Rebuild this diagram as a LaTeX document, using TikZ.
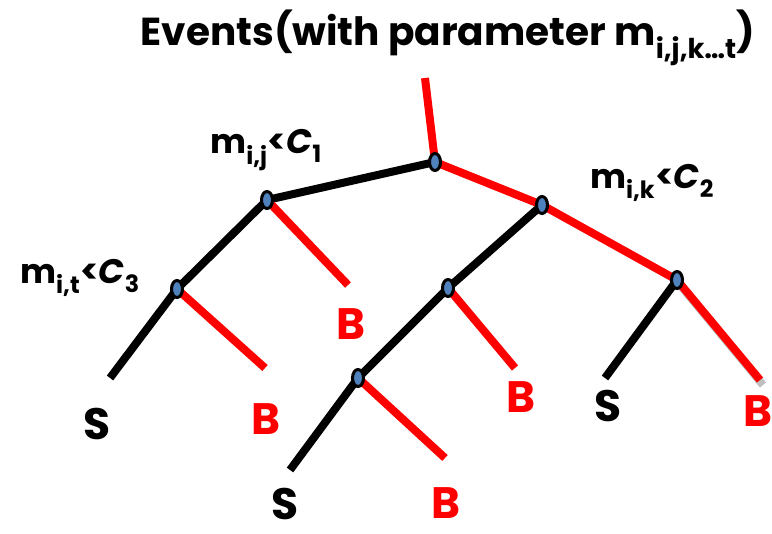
\documentclass[tikz,border=0pt]{standalone}
\usepackage{fontspec}
\setmainfont{Poppins}
\usetikzlibrary{shapes.geometric}
\definecolor{nodeblue}{RGB}{79,129,189}
\definecolor{bred}{RGB}{255,0,0}
\tikzset{
  dnode/.style={ellipse, draw=black, line width=3pt, fill=nodeblue, minimum width=11pt, minimum height=17pt, inner sep=0pt},
  redge/.style={draw=bred, line width=8pt},
  bedge/.style={draw=black, line width=8pt},
  leafS/.style={font=\fontsize{44}{44}\selectfont\bfseries, text=black},
  leafB/.style={font=\fontsize{44}{44}\selectfont\bfseries, text=bred},
  cond/.style={font=\fontsize{34}{34}\selectfont\bfseries, text=black, inner sep=0pt},
  every node/.append style={inner sep=0pt}
}
\newcommand{\sbs}[1]{\textsubscript{#1}}
\begin{document}
\begin{tikzpicture}[x=1pt,y=-1pt]
\useasboundingbox (0,0) rectangle (772,534);
% coordinates
\coordinate (top) at (425,78);
\coordinate (root) at (435,162);
\coordinate (A) at (267,200);
\coordinate (C) at (177,289);
\coordinate (R1) at (542,205);
\coordinate (R2) at (677,280);
\coordinate (M) at (448,288);
\coordinate (N) at (358,378);
\coordinate (eCS) at (110,378);
\coordinate (eCB) at (265,368);
\coordinate (eAB) at (348,285);
\coordinate (eMB) at (515,368);
\coordinate (eNS) at (290,470);
\coordinate (eNB) at (445,458);
\coordinate (eR2S) at (605,378);
\coordinate (eR2B) at (760,380);
% shadow
\draw[line width=8pt, gray, opacity=0.5] ([shift={(3,5)}]R2) -- ([shift={(3,5)}]eR2B);
% edges
\draw[redge] (top) -- (root);
\draw[bedge] (root) -- (A);
\draw[bedge] (A) -- (C);
\draw[bedge] (C) -- (eCS);
\draw[redge] (C) -- (eCB);
\draw[redge] (A) -- (eAB);
\draw[redge] (root) -- (R1);
\draw[redge] (R1) -- (R2);
\draw[bedge] (R1) -- (M);
\draw[redge] (M) -- (eMB);
\draw[bedge] (M) -- (N);
\draw[bedge] (N) -- (eNS);
\draw[redge] (N) -- (eNB);
\draw[bedge] (R2) -- (eR2S);
\draw[redge] (R2) -- (eR2B);
% nodes
\foreach \p in {root,A,C,R1,R2,M,N} \node[dnode] (n\p) at (\p) {};
% leaves
\node[leafS] (s1) at (97,424) {S};
\node[leafB] (b1) at (266,419) {B};
\node[leafB] (b2) at (351,324) {B};
\node[leafB] (b3) at (521,397) {B};
\node[leafS] (s2) at (285,504) {S};
\node[leafB] (b4) at (446,503) {B};
\node[leafS] (s3) at (608,406) {S};
\node[leafB] (b5) at (758,411) {B};
% labels
\node[cond] (l1) at (266,150) {m\sbs{i,j}<\textit{C}\sbs{1}};
\node[cond] (l3) at (80,278) {m\sbs{i,t}<\textit{C}\sbs{3}};
\node[cond] (l2) at (652,183) {m\sbs{i,k}<\textit{C}\sbs{2}};
\node[font=\fontsize{39}{39}\selectfont\bfseries] (title) at (448,38) {Events(with parameter m\sbs{i,j,k\ldots t})};
\end{tikzpicture}
\end{document}
